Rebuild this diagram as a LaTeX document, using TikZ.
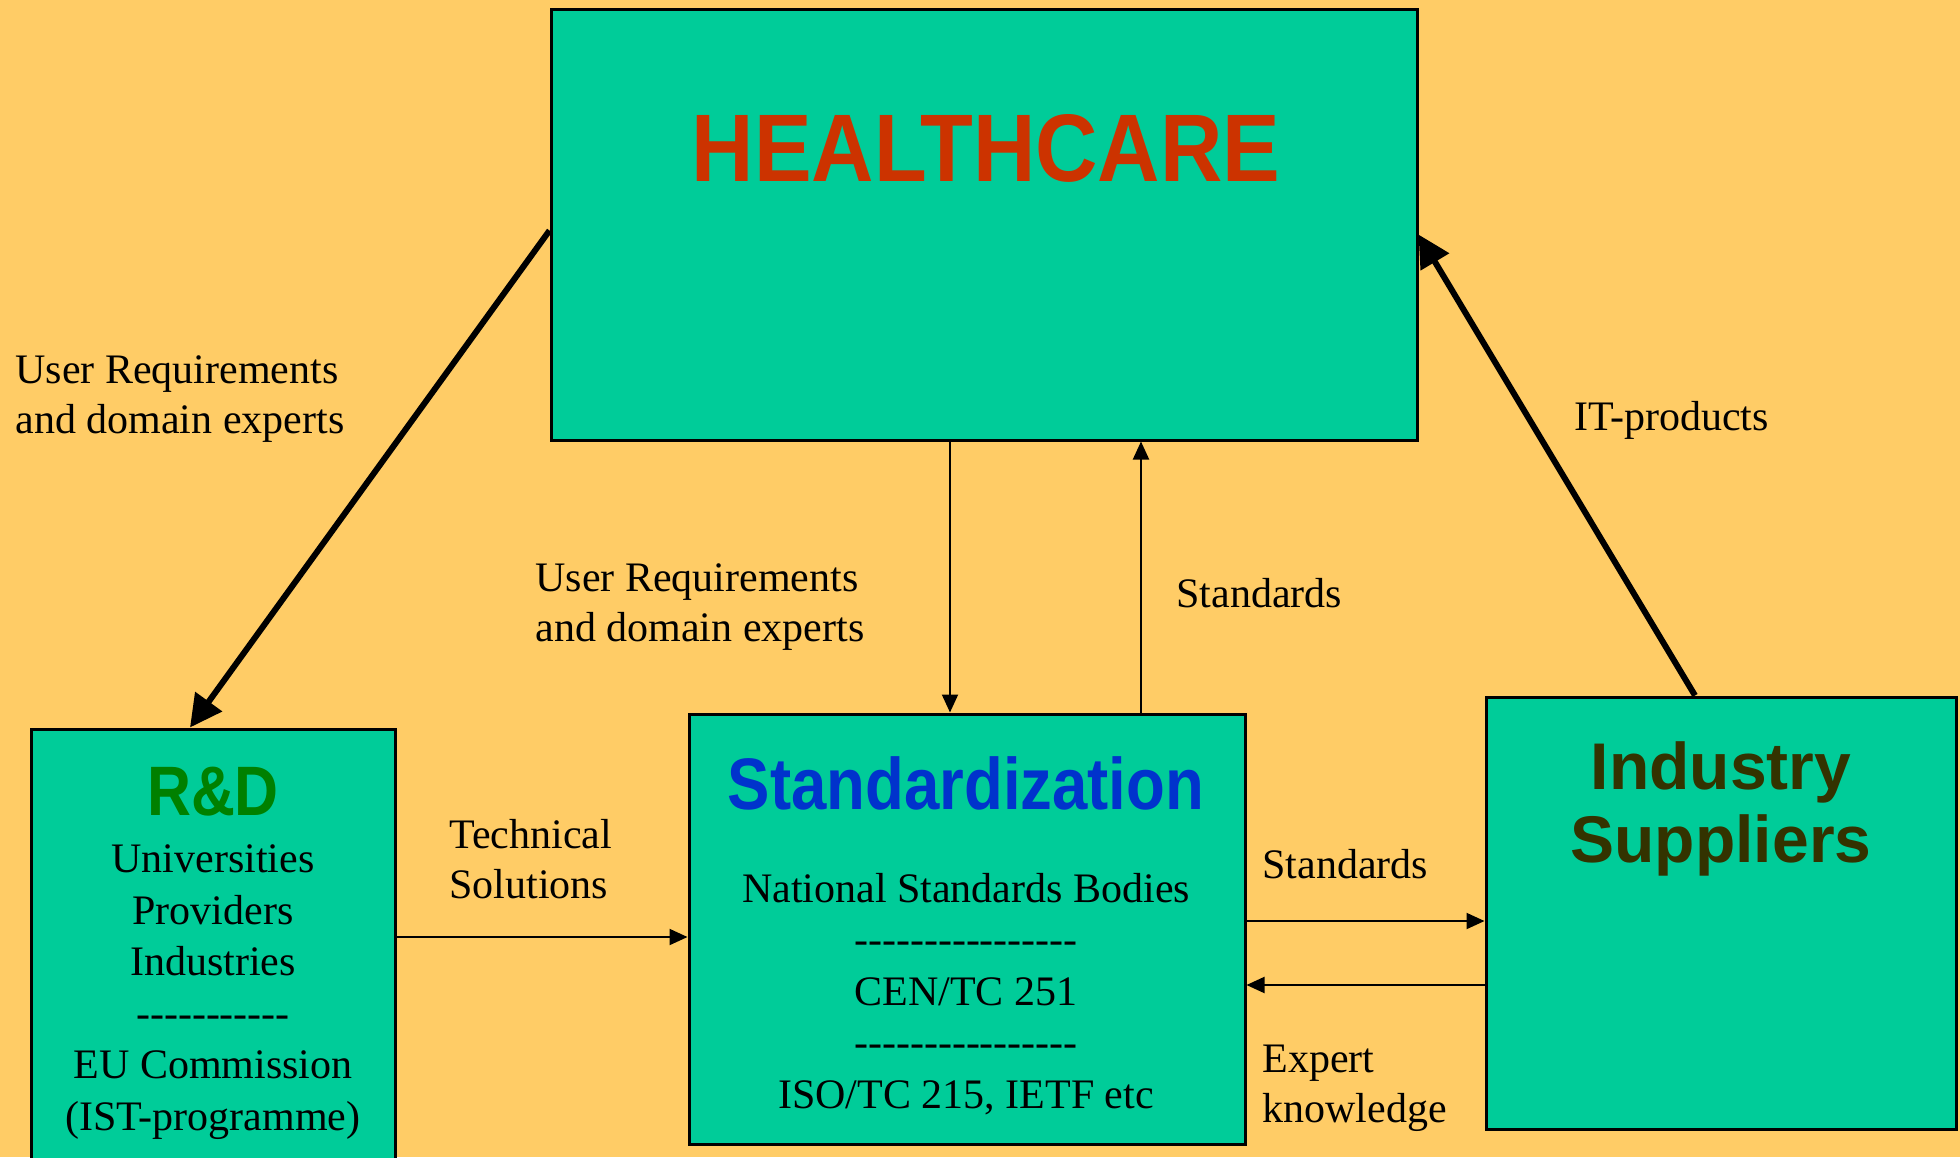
\documentclass[tikz,border=0pt]{standalone}
\usepackage{fontspec}
\setmainfont{Liberation Serif}
\setsansfont{Liberation Sans}
\newfontfamily\narrowsans{Liberation Sans}[FakeStretch=0.87]
\newfontfamily\titlesans{Liberation Sans}[FakeStretch=0.9]
\usetikzlibrary{arrows.meta}
\definecolor{bgyellow}{HTML}{FFCC66}
\definecolor{boxgreen}{HTML}{00CC99}
\definecolor{hcred}{HTML}{CC3300}
\definecolor{rdgreen}{HTML}{008000}
\definecolor{stdblue}{HTML}{0033CC}
\definecolor{indbrown}{HTML}{333300}
\newcommand\hyphens[1]{\foreach \k in {1,...,#1}{-\kern0pt}}

\begin{document}
\begin{tikzpicture}[x=0.5pt, y=-0.5pt,
    box/.style={draw, line width=1.5pt, fill=boxgreen, inner sep=0pt},
    txt/.style={font=\fontsize{21}{25.75}\selectfont, inner sep=0pt},
    lbl/.style={font=\fontsize{21}{25}\selectfont, inner sep=0pt, anchor=base west, align=left},
    flowline/.style={line width=1pt, -{Triangle[length=9pt,width=8pt]}},
    bigflow/.style={line width=3pt, -{Triangle[length=16pt,width=16pt]}}]
    \useasboundingbox (0,0) rectangle (1960,1157);
    \fill[bgyellow] (0,0) rectangle (1960,1157);
    \clip (0,0) rectangle (1960,1157);
    % boxes
    \node[box, minimum width=433pt, minimum height=215.5pt] (hc) at (984,224.5) {};
    \node[box, minimum width=182pt, minimum height=235.5pt] (rd) at (213,964.5) {};
    \node[box, minimum width=278pt, minimum height=215pt] (std) at (967,929) {};
    \node[box, minimum width=235pt, minimum height=216pt] (ind) at (1721,913) {};
    % titles
    \node[anchor=base, inner sep=0pt, text=hcred, font=\titlesans\bfseries\fontsize{48}{48}\selectfont] (hctitle) at (986,181) {HEALTHCARE};
    \node[anchor=base, inner sep=0pt, text=rdgreen, font=\narrowsans\bfseries\fontsize{35}{35}\selectfont] (rdtitle) at (213,815) {R\&D};
    \node[anchor=base, inner sep=0pt, text=stdblue, font=\narrowsans\bfseries\fontsize{36.5}{36.5}\selectfont] (stdtitle) at (966,809) {Standardization};
    \node[anchor=base, inner sep=0pt, align=center, text=indbrown, font=\sffamily\bfseries\fontsize{33}{36.5}\selectfont] (indtitle) at (1721,862) {Industry\\Suppliers};
    % box contents
    \node[txt, anchor=base, align=center] (rdlist) at (213,1130) {Universities\\Providers\\Industries\\\hyphens{11}\\EU Commission\\(IST-programme)};
    \node[txt, anchor=base, align=center] (stdlist) at (966,1108) {National Standards Bodies\\\hyphens{16}\\CEN/TC 251\\\hyphens{16}\\ISO/TC 215, IETF etc};
    % flow labels
    \node[lbl] (ureqleft) at (15,433) {User Requirements\\and domain experts};
    \node[lbl] (ureqmid) at (535,641) {User Requirements\\and domain experts};
    \node[lbl] (stdup) at (1176,607) {Standards};
    \node[lbl] (itprod) at (1574,430) {IT-products};
    \node[lbl] (techsol) at (449,898) {Technical\\Solutions};
    \node[lbl] (stdright) at (1262,878) {Standards};
    \node[lbl] (expert) at (1262,1122) {Expert\\knowledge};
    % connectors
    \draw[bigflow] ([yshift=-3pt]hc.west) -- ([xshift=-11.5pt]rd.north);
    \draw[bigflow] ([xshift=-13pt]ind.north) -- ([yshift=-5pt]hc.east);
    \draw[flowline] ([xshift=-17pt]hc.south) -- ([xshift=-17pt]hc.south |- std.north);
    \draw[flowline] ([xshift=87pt]std.north) -- ([xshift=87pt]std.north |- hc.south);
    \draw[flowline] ([yshift=13.75pt]rd.east) -- ([yshift=13.75pt]rd.east -| std.west);
    \draw[flowline] ([yshift=4pt]std.east) -- ([yshift=4pt]std.east -| ind.west);
    \draw[flowline] ([yshift=-36pt]ind.west) -- ([yshift=-36pt]ind.west -| std.east);
\end{tikzpicture}
\end{document}
